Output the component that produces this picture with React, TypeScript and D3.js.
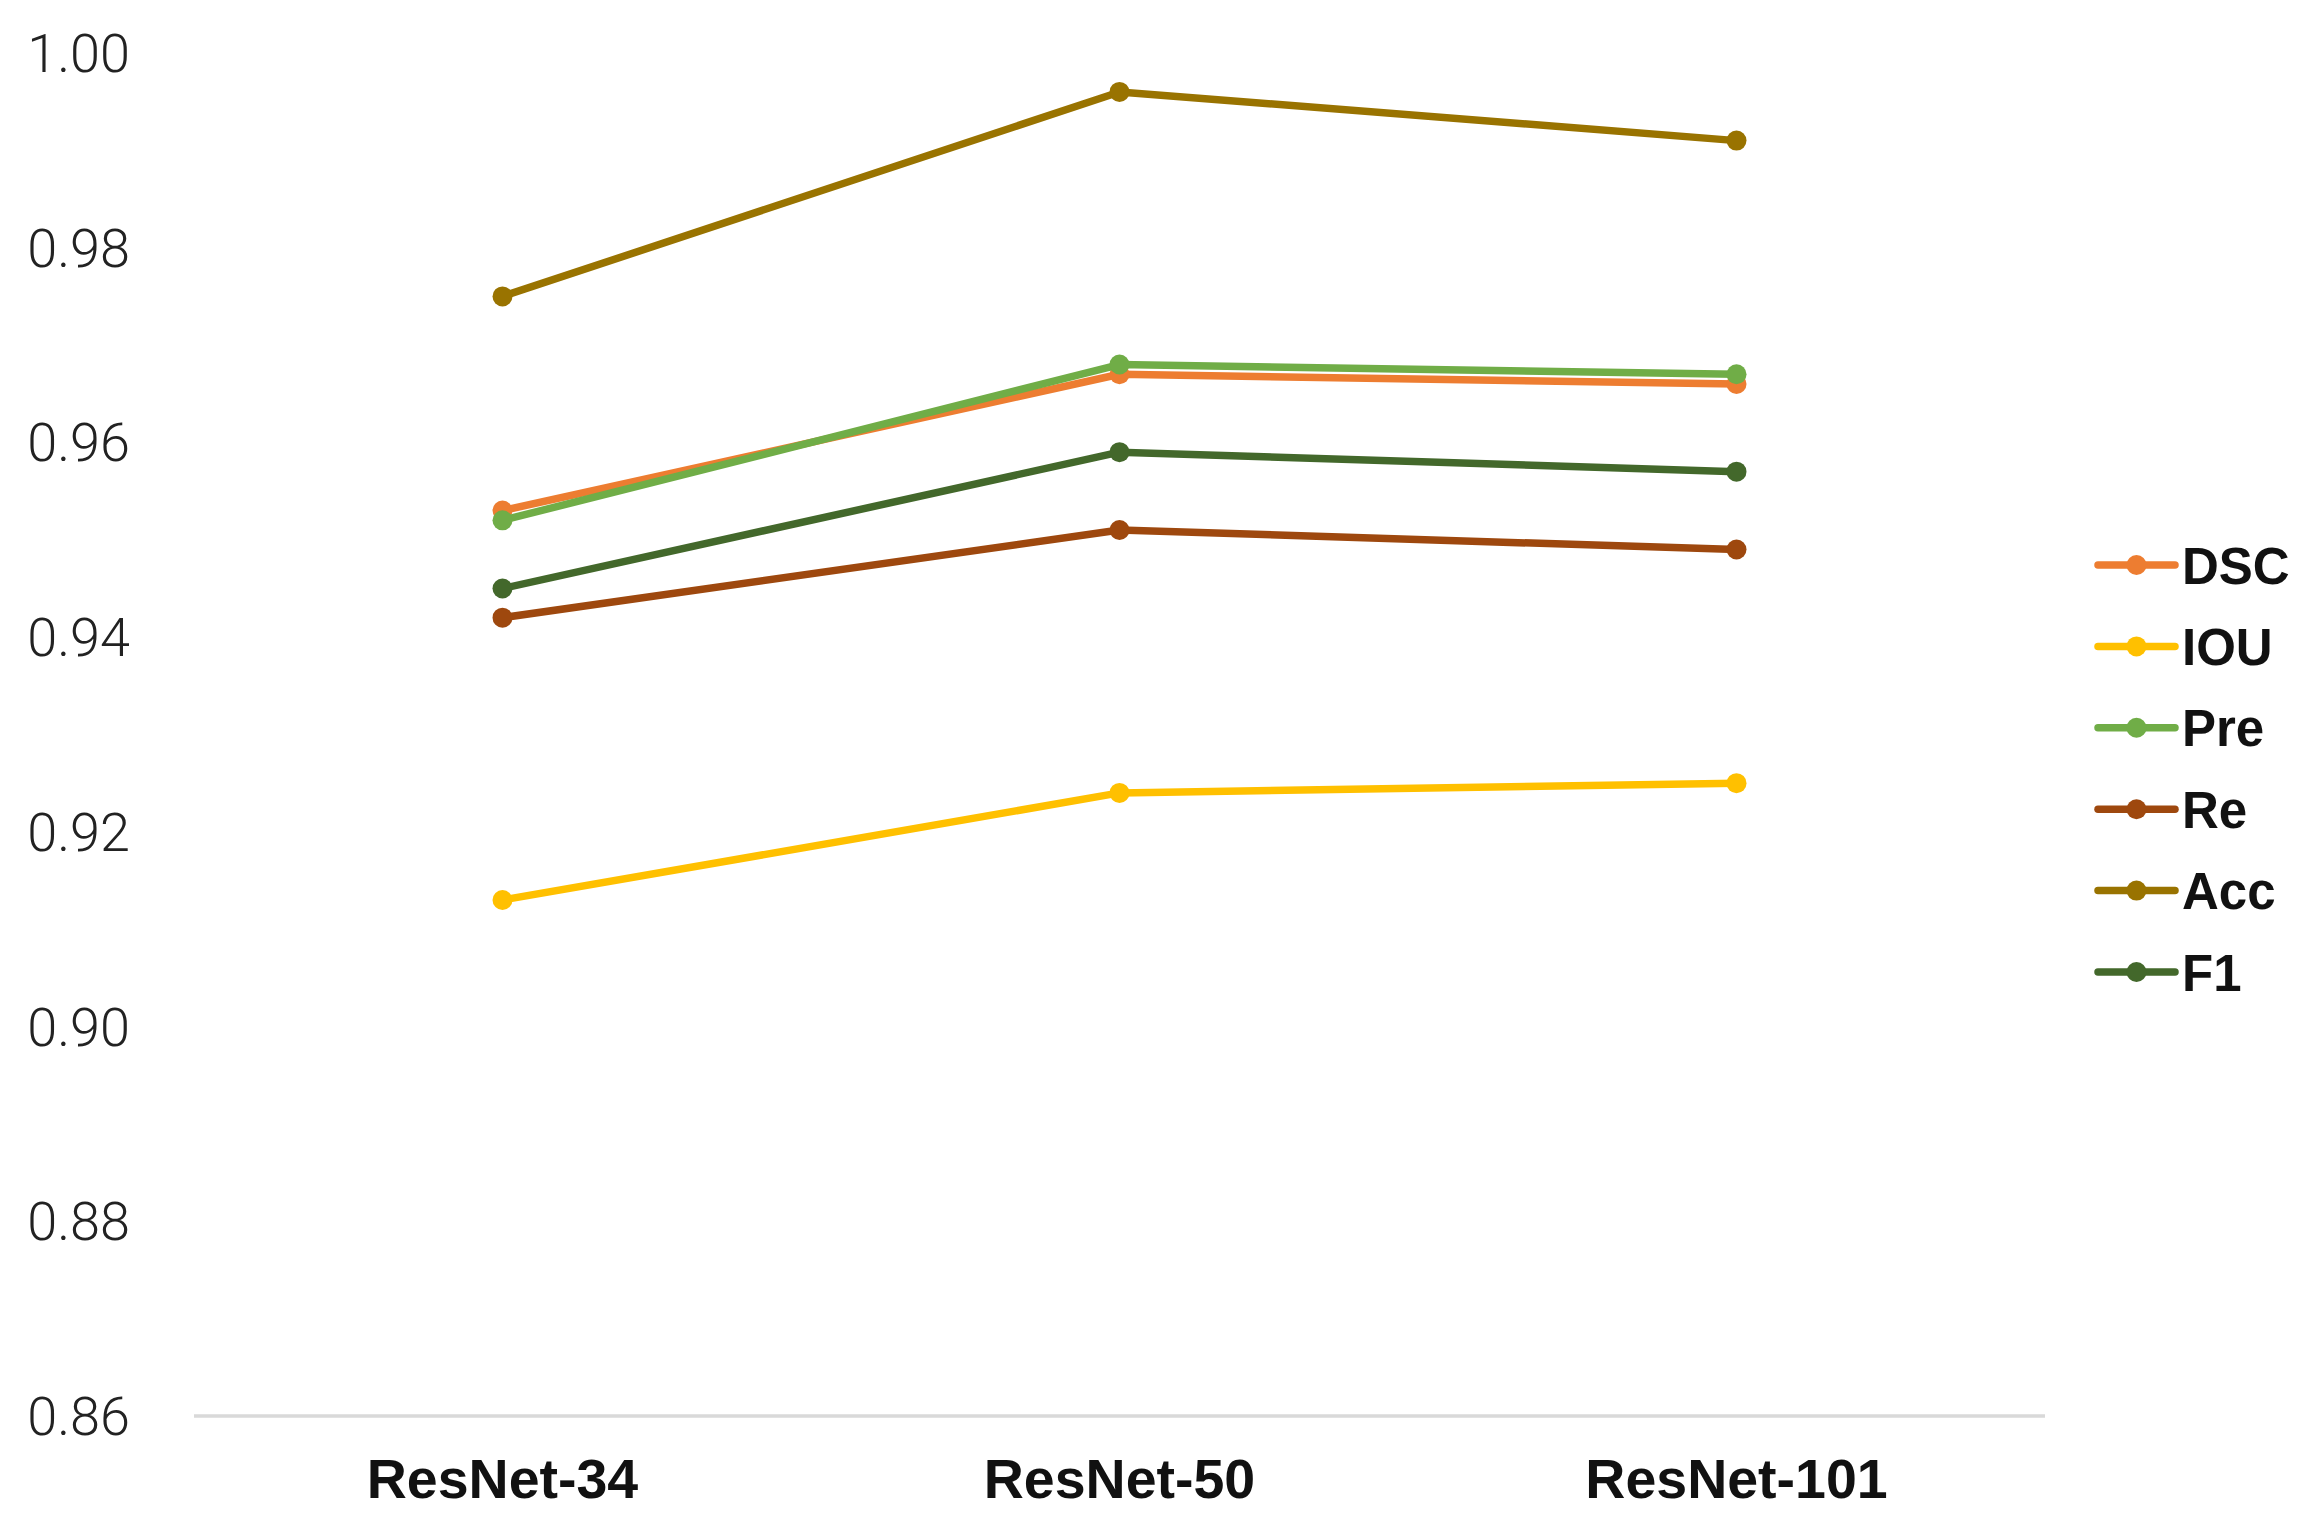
import * as d3 from "d3";

const models = ["ResNet-34", "ResNet-50", "ResNet-101"];
const seriesNames = ["DSC", "IOU", "Pre", "Re", "Acc", "F1"];
const seriesColors = ["#ED7D31", "#FFC000", "#70AD47", "#9E480E", "#997300", "#43682B"];
const dsc = [0.953, 0.967, 0.966];
const iou = [0.913, 0.924, 0.925];
const pre = [0.952, 0.968, 0.967];
const re = [0.942, 0.951, 0.949];
const acc = [0.975, 0.996, 0.991];
const f1 = [0.945, 0.959, 0.957];
const yTicks = [0.86, 0.88, 0.9, 0.92, 0.94, 0.96, 0.98, 1.0];

const W = 2305;
const H = 1520;

export default function App() {
  const values = [dsc, iou, pre, re, acc, f1];
  const series = seriesNames.map((name, i) => ({ name, color: seriesColors[i], values: values[i] }));

  const x = d3.scaleBand<string>().domain(models).range([194, 2045]).padding(0);
  const y = d3.scaleLinear().domain([0.86, 1.0]).range([1416, 53]);
  const cx = (m: string) => (x(m) as number) + x.bandwidth() / 2;

  const line = d3
    .line<number>()
    .x((_, i) => cx(models[i]))
    .y((d) => y(d));

  const fmt = d3.format(".2f");

  // legend layout
  const legendX0 = 2098;
  const legendX1 = 2175;
  const legendY = d3.scalePoint<string>().domain(seriesNames).range([565, 972]);

  return (
    <svg
      width={W}
      height={H}
      style={{ position: "absolute", left: 0, top: 0, background: "#fff" }}
    >
      {/* y tick labels */}
      <g fontFamily="Roboto, 'Liberation Sans', sans-serif" fontWeight={300} fontSize={54} fill="#222">
        {yTicks.map((t) => (
          <text key={t} x={130} y={y(t) + 19} textAnchor="end">
            {fmt(t)}
          </text>
        ))}
      </g>

      {/* baseline */}
      <line x1={194} x2={2045} y1={y(0.86)} y2={y(0.86)} stroke="#D9D9D9" strokeWidth={3.5} />

      {/* x labels */}
      <g fontFamily="'Liberation Sans', Arial, sans-serif" fontWeight="bold" fontSize={55.5} fill="#111">
        {models.map((m) => (
          <text key={m} x={cx(m)} y={1498} textAnchor="middle">
            {m}
          </text>
        ))}
      </g>

      {/* series */}
      {series.map((s) => (
        <g key={s.name}>
          <path d={line(s.values) as string} fill="none" stroke={s.color} strokeWidth={7.5} strokeLinejoin="round" />
          {s.values.map((v, i) => (
            <circle key={i} cx={cx(models[i])} cy={y(v)} r={10} fill={s.color} />
          ))}
        </g>
      ))}

      {/* legend */}
      <g fontFamily="'Liberation Sans', Arial, sans-serif" fontWeight="bold" fontSize={51} fill="#111">
        {series.map((s) => {
          const ly = legendY(s.name) as number;
          return (
            <g key={s.name}>
              <line x1={legendX0} x2={legendX1} y1={ly} y2={ly} stroke={s.color} strokeWidth={7.5} strokeLinecap="round" />
              <circle cx={(legendX0 + legendX1) / 2} cy={ly} r={10} fill={s.color} />
              <text x={2182} y={ly + 18.5}>
                {s.name}
              </text>
            </g>
          );
        })}
      </g>
    </svg>
  );
}
